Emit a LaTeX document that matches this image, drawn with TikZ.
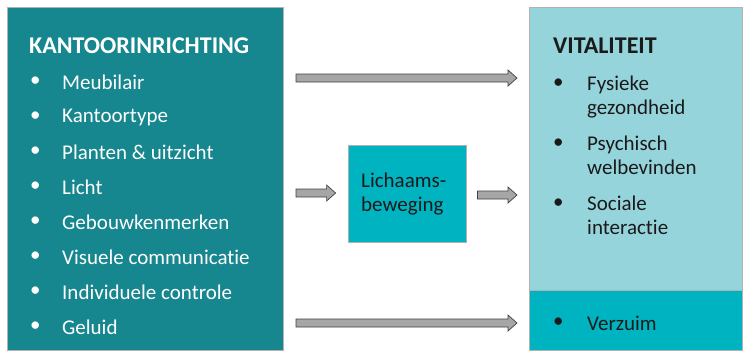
\documentclass[tikz,border=0pt]{standalone}
\usepackage{fontspec}
\setmainfont{Carlito}[Ligatures=NoCommon]
\usetikzlibrary{calc}

\definecolor{darkteal}{HTML}{16868F}
\definecolor{lightteal}{HTML}{96D4DC}
\definecolor{brightteal}{HTML}{00B3C1}
\definecolor{arrowgray}{HTML}{A6A6A6}
\definecolor{inktext}{HTML}{1A1A1A}

\tikzset{
  box/.style={draw=gray!60, line width=0.8pt},
  blockarrow/.style={draw=black!75, fill=arrowgray, line width=0.7pt, line join=miter},
  item/.style={anchor=west, inner sep=0pt, font=\fontsize{21}{23.5}\selectfont},
  title/.style={anchor=west, inner sep=0pt, font=\fontsize{24}{28}\selectfont\bfseries}
}

% block arrow from #1 to #2 (horizontal)
\newcommand{\blockarrow}[2]{%
  \draw[blockarrow] ($(#1)+(0,-4)$) -- ($(#2)+(-9,-4)$) -- ($(#2)+(-9,-8)$) -- (#2)
    -- ($(#2)+(-9,8)$) -- ($(#2)+(-9,4)$) -- ($(#1)+(0,4)$) -- cycle;}

\begin{document}
\begin{tikzpicture}[x=1pt, y=-1pt]
        \useasboundingbox (0,0) rectangle (745,354);

        % boxes
        \draw[box, fill=darkteal] (7,7) rectangle (283,350);
        \draw[box, fill=lightteal] (529,7) rectangle (742,290);
        \draw[box, fill=brightteal] (529,290) rectangle (742,350);
        \node[box, fill=brightteal, minimum width=118pt, minimum height=97pt, inner sep=0pt] (beweging) at (407,194) {};

        % left list
        \node[title, text=white] (kantoor) at (29,46) {KANTOORINRICHTING};
        \foreach \txt [count=\i] in {Meubilair, Kantoortype, Planten \& uitzicht, Licht,
                Gebouwkenmerken, Visuele communicatie, Individuele controle, Geluid} {
            \node[item, text=white] (lb\i) at (30,{47+35*\i}) {\textbullet};
            \node[item, text=white] (li\i) at (62,{47+35*\i}) {\txt};
        }

        % middle
        \node[item, text=inktext, align=left, anchor=west] (lichaam) at (361,194) {Lichaams-\\beweging};

        % right list
        \node[title, text=inktext] (vitaal) at (553,46) {VITALITEIT};
        \node[item, text=inktext] (rb1) at (553,84) {\textbullet};
        \node[item, text=inktext, align=left, anchor=north west] (ri1) at (587,76) {Fysieke\\gezondheid};
        \node[item, text=inktext] (rb2) at (553,144) {\textbullet};
        \node[item, text=inktext, align=left, anchor=north west] (ri2) at (587,136) {Psychisch\\welbevinden};
        \node[item, text=inktext] (rb3) at (553,204) {\textbullet};
        \node[item, text=inktext, align=left, anchor=north west] (ri3) at (587,196) {Sociale\\interactie};
        \node[item, text=inktext] (rb4) at (553,323) {\textbullet};
        \node[item, text=inktext] (ri4) at (587,323) {Verzuim};

        % arrows
        \coordinate (a1s) at (296,78);
        \coordinate (a1e) at (517,78);
        \coordinate (a2s) at (296,193);
        \coordinate (a2e) at ($(beweging.west)+(-12,-1)$);
        \coordinate (a3s) at ($(beweging.east)+(11,1)$);
        \coordinate (a3e) at (517,195);
        \coordinate (a4s) at (296,323);
        \coordinate (a4e) at (517,323);
        \blockarrow{a1s}{a1e}
        \blockarrow{a2s}{a2e}
        \blockarrow{a3s}{a3e}
        \blockarrow{a4s}{a4e}

    \end{tikzpicture}
\end{document}
